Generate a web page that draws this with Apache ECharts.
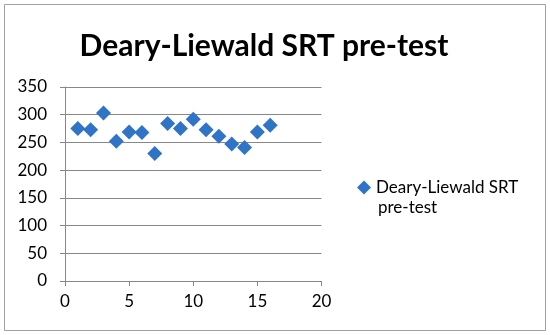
<!DOCTYPE html>
<html><head><meta charset="utf-8">
<script src="https://cdn.jsdelivr.net/npm/echarts@6/dist/echarts.min.js"></script>
<style>html,body{margin:0;padding:0;background:#fff}#c{width:550px;height:335px}</style>
</head><body><div id="c"></div>
<script>
var titleText = 'Deary-Liewald SRT pre-test';
var seriesName = 'Deary-Liewald SRT pre-test';
var legendLine1 = 'Deary-Liewald SRT';
var legendLine2 = 'pre-test';
var xValues = [1,2,3,4,5,6,7,8,9,10,11,12,13,14,15,16];
var yValues = [275,273,303,252,269,268,230,284,275,292,273,261,247,241,269,281];
var xTicks = [0,5,10,15,20];
var yTicks = [0,50,100,150,200,250,300,350];

var chart = echarts.init(document.getElementById('c'));
var font = 'Lato, "Open Sans", sans-serif';
chart.setOption({
  backgroundColor: '#fff',
  animation: false,
  graphic: [
    {type:'rect', shape:{x:4.5,y:4.5,width:541,height:326}, style:{fill:'none', stroke:'#a0a0a0', lineWidth:1}},
    {type:'text', left:378, top:199, style:{text:legendLine2, fontFamily:font, fontSize:17, fill:'#000'}}
  ],
  title: {text: titleText, left: 259, top: 26, textAlign:'center',
    textStyle:{fontFamily:font, fontSize:30, fontWeight:'bold', color:'#000'}},
  legend: {left: 352, top: 174, itemWidth:14, itemHeight:14, itemGap:6,
    data:[{name: seriesName, icon:'diamond'}],
    formatter: function(){return legendLine1;},
    textStyle:{fontFamily:font, fontSize:17, color:'#000'}},
  grid: {left:65, right:228.5, top:87, bottom:54, containLabel:false},
  xAxis: {type:'value', min:xTicks[0], max:xTicks[xTicks.length-1], interval:5,
    axisLine:{lineStyle:{color:'#888'}}, axisTick:{show:true, length:5, lineStyle:{color:'#888'}},
    splitLine:{show:false},
    axisLabel:{fontFamily:font, fontSize:17, color:'#000', margin:12}},
  yAxis: {type:'value', min:yTicks[0], max:yTicks[yTicks.length-1], interval:50,
    axisLine:{show:true, lineStyle:{color:'#888'}}, axisTick:{show:true, length:5, lineStyle:{color:'#888'}},
    splitLine:{lineStyle:{color:'#888'}},
    axisLabel:{fontFamily:font, fontSize:17, color:'#000', margin:18}},
  series: [{name: seriesName, type:'scatter', symbol:'diamond', symbolSize:15,
    itemStyle:{color:'#2f74c6', opacity:1},
    data: xValues.map(function(x,i){return [x, yValues[i]];})}]
});
</script></body></html>
